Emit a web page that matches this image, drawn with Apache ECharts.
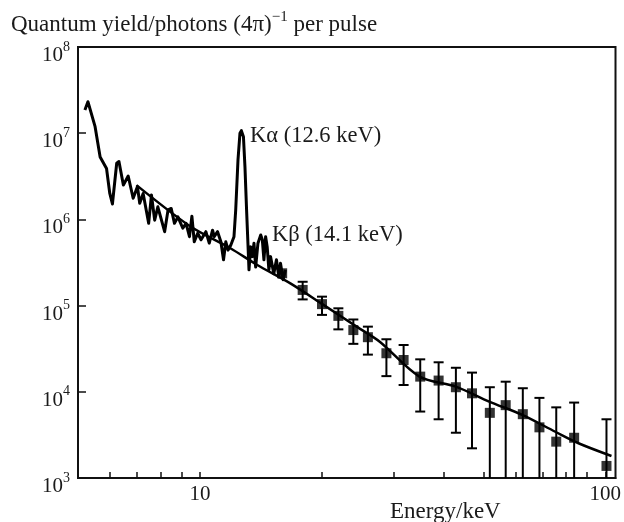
<!DOCTYPE html>
<html>
<head>
<meta charset="utf-8">
<script src="https://cdn.jsdelivr.net/npm/echarts@6/dist/echarts.min.js"></script>
<style>
html,body{margin:0;padding:0;background:#fff;}
#c{width:624px;height:522px;}
</style>
</head>
<body>
<div id="c"></div>
<script>
// Measured spectrum (energy keV, quantum yield)
var specE = [5.20,5.29,5.51,5.67,5.88,5.99,6.08,6.23,6.31,6.47,6.65,6.84,7.01,7.10,7.24,7.47,7.59,7.73,7.87,8.18,8.34,8.49,8.65,8.82,9.07,9.24,9.42,9.55,9.68,9.87,10.06,10.34,10.54,10.74,10.84,11.05,11.26,11.43,11.58,11.73,11.91,12.13,12.25,12.41,12.55,12.65,12.80,12.91,13.03,13.13,13.21,13.34,13.46,13.59,13.72,13.90,14.12,14.25,14.38,14.52,14.65,14.79,14.93,15.21,15.44,15.65,15.80,16.04,16.25];
var specV = [1.86e7,2.32e7,1.19e7,5.3e6,3.9e6,2.0e6,1.51e6,4.48e6,4.7e6,2.5e6,3.19e6,1.76e6,2.4e6,1.54e6,2.0e6,9.0e5,1.92e6,9.8e5,1.40e6,7.2e5,1.29e6,1.34e6,9.0e5,1.07e6,7.9e5,9.0e5,6.3e5,1.09e6,5.5e5,6.9e5,5.8e5,7.2e5,5.3e5,7.5e5,6.3e5,7.2e5,5.5e5,3.4e5,5.5e5,4.4e5,5.0e5,6.3e5,1.29e6,4.9e6,1.0e7,1.07e7,9.1e6,4.1e6,1.29e6,5.3e5,2.6e5,4.8e5,3.7e5,5.3e5,2.8e5,5.3e5,6.6e5,5.8e5,3.4e5,6.3e5,4.8e5,2.6e5,3.7e5,2.35e5,3.4e5,2.15e5,3.1e5,2.0e5,2.6e5];

// Fitted curve
var fitE = [6.97,9.50,11.91,13.85,16.71,20.17,24.35,27.77,34.8,42.8,51.7,62.4,75.3,85.9,103.6];
var fitV = [2.5e6,8.2e5,4.6e5,2.96e5,1.81e5,1.02e5,5.7e4,3.81e4,1.50e4,1.15e4,7.7e3,5.4e3,3.44e3,2.53e3,1.80e3];

// Data points with error bars
var ptE  = [15.95,17.92,20.0,21.95,23.9,25.96,28.84,31.8,34.95,38.8,42.8,46.9,51.9,56.8,62.6,68.8,75.7,83.8,100.7];
var ptV  = [2.37e5,1.52e5,1.04e5,7.6e4,5.2e4,4.3e4,2.80e4,2.34e4,1.50e4,1.35e4,1.13e4,9.6e3,5.7e3,7.0e3,5.5e3,3.87e3,2.64e3,2.93e3,1.38e3];
var ptLo = [null,1.18e5,7.8e4,5.3e4,3.6e4,2.7e4,1.52e4,1.2e4,5.9e3,4.8e3,3.35e3,2.21e3,500,500,500,500,500,500,500];
var ptHi = [null,1.89e5,1.27e5,9.3e4,6.9e4,5.7e4,4.07e4,3.49e4,2.38e4,2.2e4,1.9e4,1.67e4,1.13e4,1.31e4,1.10e4,8.5e3,6.6e3,7.5e3,4.8e3];

// Axis ticks / labels
var xTicks = [6,7,8,9,10,20,30,40,50,60,70,80,90,100];
var xLabels = [10,100];

var FONT = 'Liberation Serif';
var INK = '#1a1a1a';

var spec = specE.map(function(e,i){return [e, specV[i]];});
var fit = fitE.map(function(e,i){return [e, fitV[i]];});
var pts = ptE.map(function(e,i){return [e, ptV[i]];});
var errs = [];
ptE.forEach(function(e,i){ if (ptLo[i] != null) errs.push([e, ptLo[i], ptHi[i]]); });

var chart = echarts.init(document.getElementById('c'), null, {renderer:'canvas'});
chart.setOption({
  animation: false,
  backgroundColor: '#fff',
  grid: {left:78, right:7, top:47, bottom:44, show:true, borderColor:'#111', borderWidth:2, backgroundColor:'transparent'},
  xAxis: {
    type: 'log', logBase: 10, min: 5, max: 106,
    axisLine: {lineStyle:{color:'#111', width:2}},
    axisTick: {inside:true, length:6, lineStyle:{color:'#111', width:1.5}, customValues: xTicks},
    axisLabel: {customValues: xLabels, fontFamily: FONT, fontSize: 21, color: INK, margin: 6,
      formatter: function(v){ return String(Math.round(v)); }},
    minorTick: {show:false},
    splitLine: {show:false}
  },
  yAxis: {
    type: 'log', logBase: 10, min: 1e3, max: 1e8, interval: 1,
    axisLine: {lineStyle:{color:'#111', width:2}},
    axisTick: {inside:true, length:8, lineStyle:{color:'#111', width:1.5}},
    axisLabel: {fontFamily: FONT, color: INK, margin: 8, padding: [12,0,0,0],
      formatter: function(v){ var e = Math.round(Math.log10(v)); return '{b|10}{s|' + e + '}'; },
      rich: {
        b: {fontFamily: FONT, fontSize: 21, color: INK, lineHeight: 26, verticalAlign:'bottom'},
        s: {fontFamily: FONT, fontSize: 14, color: INK, lineHeight: 14, verticalAlign:'top'}
      }
    },
    splitLine: {show:false}
  },
  graphic: [
    {type:'text', left: 11, top: 10, style:{
      text: '{t|Quantum yield/photons (4π)}{s|−1}{t| per pulse}',
      rich: {
        t: {fontFamily: FONT, fontSize: 23, fill: INK, lineHeight: 26, verticalAlign:'bottom'},
        s: {fontFamily: FONT, fontSize: 15, fill: INK, lineHeight: 15, verticalAlign:'top'}
      }
    }},
    {type:'text', left: 250, top: 125, style:{text:'Kα (12.6 keV)', font: '22.5px "Liberation Serif"', fill: INK}},
    {type:'text', left: 272, top: 224, style:{text:'Kβ (14.1 keV)', font: '22.5px "Liberation Serif"', fill: INK}},
    {type:'text', left: 390, top: 500, style:{text:'Energy/keV', font: '23px "Liberation Serif"', fill: INK}}
  ],
  series: [
    {type:'line', data: fit, smooth: 0.3, showSymbol:false, lineStyle:{color:'#000', width:2.5}, z:2},
    {type:'line', data: spec, showSymbol:false, lineStyle:{color:'#000', width:3, join:'round'}, z:3},
    {type:'custom', data: errs, clip: true, z:4,
      renderItem: function(params, api){
        var x = api.value(0);
        var lo = api.coord([x, api.value(1)]);
        var hi = api.coord([x, api.value(2)]);
        var c = 5;
        var st = {stroke:'#000', lineWidth:2};
        return {type:'group', children:[
          {type:'line', shape:{x1:lo[0],y1:lo[1],x2:hi[0],y2:hi[1]}, style:st},
          {type:'line', shape:{x1:hi[0]-c,y1:hi[1],x2:hi[0]+c,y2:hi[1]}, style:st},
          {type:'line', shape:{x1:lo[0]-c,y1:lo[1],x2:lo[0]+c,y2:lo[1]}, style:st}
        ]};
      }
    },
    {type:'scatter', data: pts, symbol:'rect', symbolSize: 10, itemStyle:{color:'#000'}, z:5}
  ]
});
</script>
</body>
</html>
